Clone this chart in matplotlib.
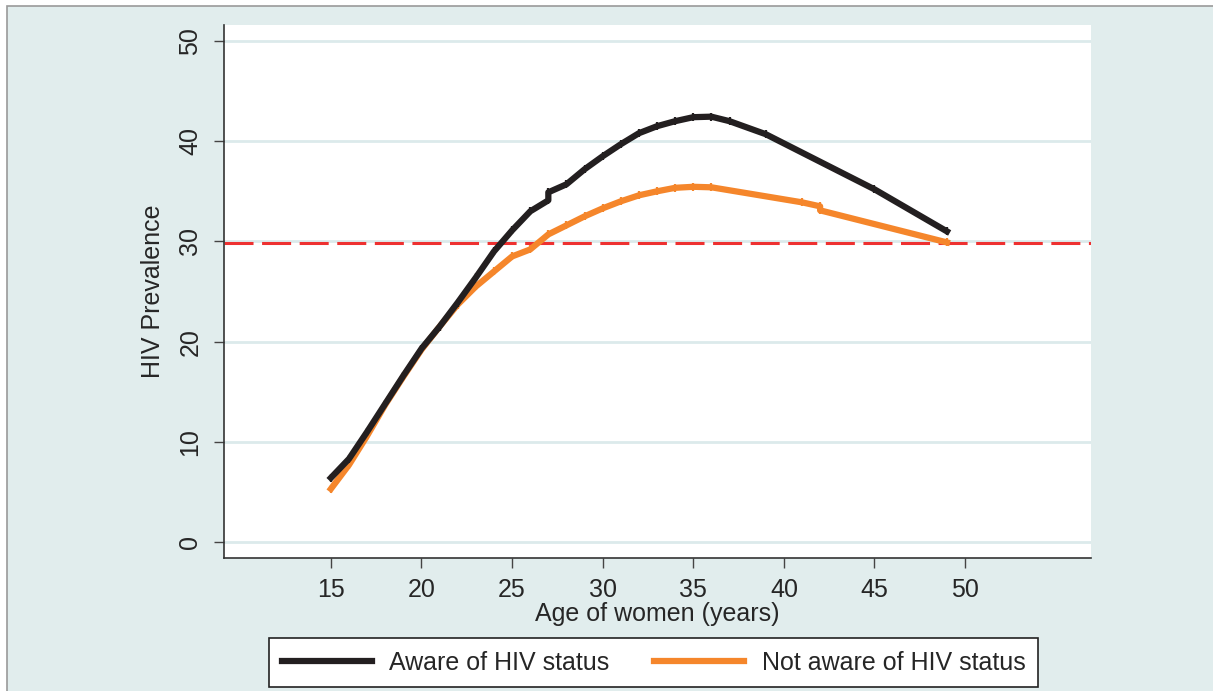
#!/usr/bin/env python3
import matplotlib
matplotlib.use("Agg")
import matplotlib.pyplot as plt
from matplotlib.patches import Rectangle

plt.rcParams['font.family'] = ['Liberation Sans', 'DejaVu Sans']

# HIV prevalence by age, women aware / not aware of their status
age_aware = [15, 16, 17, 18, 19, 20, 21, 22, 23, 24, 25, 26, 27, 27, 28, 29, 30,
             31, 32, 33, 34, 35, 36, 37, 39, 45, 49]
prev_aware = [6.4, 8.3, 11.0, 13.8, 16.6, 19.3, 21.5, 23.9, 26.4, 29.0, 31.1, 33.0,
              34.1, 34.9, 35.7, 37.2, 38.5, 39.7, 40.8, 41.5, 42.0, 42.4, 42.45,
              42.0, 40.7, 35.2, 31.0]

age_notaware = [15, 16, 17, 18, 19, 20, 21, 22, 23, 24, 25, 26, 27, 28, 29, 30,
                31, 32, 33, 34, 35, 36, 41, 42, 42, 49]
prev_notaware = [5.3, 7.7, 10.6, 13.7, 16.5, 19.2, 21.5, 23.7, 25.5, 27.0, 28.5, 29.2,
                 30.7, 31.6, 32.5, 33.3, 34.0, 34.6, 35.0, 35.35, 35.45, 35.4,
                 33.9, 33.5, 33.1, 29.9]

overall = 29.8

bg = '#e1eded'
txt = '#262626'
fs = 18

fig = plt.figure(figsize=(12.13, 6.91), dpi=100, facecolor='white')
fig.add_artist(Rectangle((7 / 1213, -0.01), 1.0, 1 - 6 / 691 + 0.01,
                         transform=fig.transFigure, facecolor=bg,
                         edgecolor='#9a9a9a', linewidth=1.2, zorder=-5))

ax = fig.add_axes([224 / 1213, 1 - 558 / 691, (1091 - 224) / 1213, (558 - 25) / 691])
ax.set_facecolor('white')

for y in range(0, 51, 10):
    ax.axhline(y, color='#dceaeb', linewidth=2, zorder=1)

ax.axhline(overall, color='#ee3131', linewidth=2.2, dashes=(9.5, 2.8), zorder=2)

ax.plot(age_aware, prev_aware, color='#231f20', linewidth=4.5,
        marker='|', markersize=5.5, markeredgewidth=1.6, zorder=4,
        label='Aware of HIV status')
ax.plot(age_notaware, prev_notaware, color='#f5862b', linewidth=4.5,
        marker='|', markersize=5.5, markeredgewidth=1.6, zorder=3,
        label='Not aware of HIV status')

ax.set_xlim(9.1, 56.95)
ax.set_ylim(-1.6, 51.6)
ax.set_xticks(range(15, 51, 5))
ax.set_yticks(range(0, 51, 10))

for s in ['top', 'right']:
    ax.spines[s].set_visible(False)
for s in ['left', 'bottom']:
    ax.spines[s].set_color('#333333')
    ax.spines[s].set_linewidth(1.2)

ax.tick_params(axis='both', direction='out', length=7.5, width=1, color='#444444',
               labelsize=fs, labelcolor=txt)
ax.tick_params(axis='y', pad=8)
ax.tick_params(axis='x', pad=7)
for lab in ax.get_yticklabels():
    lab.set_rotation(90)
    lab.set_va('center')

ax.set_xlabel('Age of women (years)', fontsize=fs, color=txt, labelpad=0)
ax.set_ylabel('HIV Prevalence', fontsize=fs, color=txt, labelpad=10)

leg = fig.legend(loc='center', bbox_to_anchor=(0.5388, 0.0412), ncol=2,
                 fontsize=fs, frameon=True, fancybox=False, framealpha=1,
                 edgecolor='#222222', handlelength=3.6, handletextpad=0.7,
                 columnspacing=1.8, borderpad=0.5)
leg.get_frame().set_linewidth(1.2)
for t in leg.get_texts():
    t.set_color(txt)
for h in leg.legend_handles:
    h.set_marker('')

fig.savefig('out.png', dpi=100, facecolor=fig.get_facecolor())
